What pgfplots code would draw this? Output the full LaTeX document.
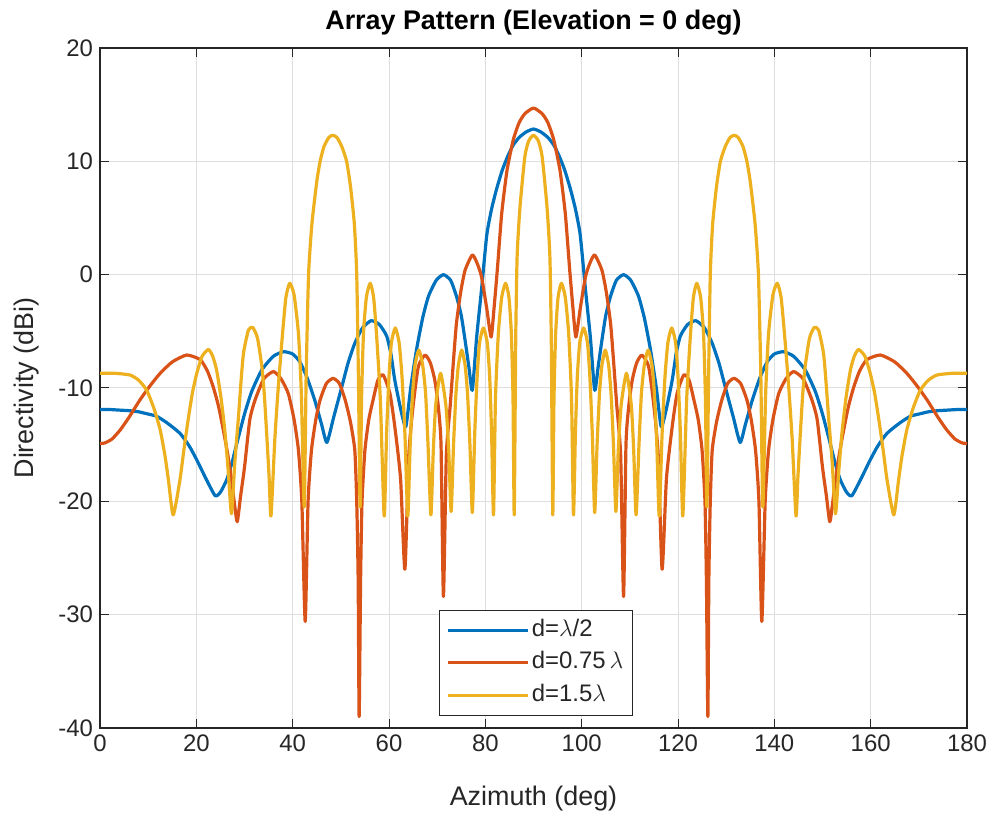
\documentclass[border=0pt]{standalone}
\usepackage{fontspec}
\setmainfont{Liberation Sans}
\usepackage{pgfplots}
\pgfplotsset{compat=1.18}
\definecolor{mblue}{rgb}{0,0.447,0.741}
\definecolor{mred}{rgb}{0.850,0.325,0.098}
\definecolor{myel}{rgb}{0.929,0.694,0.125}
\definecolor{axgray}{rgb}{0.15,0.15,0.15}
\begin{document}
\begin{tikzpicture}
\begin{axis}[
  name=ax,
  scale only axis,
  width=433.5bp, height=340bp,
  xmin=0, xmax=180, ymin=-40, ymax=20,
  xtick={0,20,40,60,80,100,120,140,160,180},
  xticklabels={0,20,40,60,80,100,120,140,160,180},
  ytick={-40,-30,-20,-10,0,10,20},
  yticklabels={-40,-30,-20,-10,0,10,20},
  tick align=inside,
  major tick length=4.5bp,
  tick style={draw=axgray, line width=0.5bp},
  axis line style={draw=axgray, line width=0.6bp},
  grid=major,
  major grid style={draw=black!13, line width=0.5bp},
  ticklabel style={font=\fontsize{12}{14}\selectfont, text=axgray},
  every axis x label/.style={at={(axis description cs:0.5,-0.104)}, anchor=center},
  every axis y label/.style={at={(axis description cs:-0.0842,0.5)}, rotate=90, anchor=center},
  every axis title/.style={at={(axis description cs:0.5,1.038)}, anchor=center},
  label style={font=\fontsize{13.5}{16}\selectfont, text=axgray},
  title style={font=\bfseries\fontsize{13.5}{16}\selectfont},
  title={Array Pattern (Elevation = 0 deg)},
  xlabel={Azimuth (deg)},
  ylabel={Directivity (dBi)},
  legend image code/.code={\draw[#1] (0bp,0bp) -- (40bp,0bp);},
  legend cell align=left,
  legend style={at={(axis description cs:0.391,0.0176)}, anchor=south west,
    draw=axgray, line width=0.6bp, fill=white, inner xsep=3.5bp, inner ysep=3bp,
    font=\fontsize{12}{14}\selectfont, text=axgray,
    nodes={inner sep=1bp, text height=9bp, text depth=3bp},
    row sep=2.3bp},
  every axis plot/.append style={line width=1.6bp, line join=round, smooth, tension=0.35},
]
\addplot[mblue] coordinates {
(0,-11.9) (2,-11.9) (4,-11.95) (6,-12.0) (8,-12.1) (10,-12.3) (11.8,-12.5) (14,-13.1)
(16.6,-14.0) (18.5,-15.1) (20.1,-16.35) (22,-18.0) (23.9,-19.5) (25,-19.2) (26.3,-18.1)
(27.4,-16.6) (28.4,-14.9) (30,-12.3) (31.5,-10.3) (33.6,-8.4) (36,-7.2) (38.1,-6.8)
(40,-7.0) (41.5,-7.7) (43,-9.1) (44.6,-11.1) (46,-13.2) (47.1,-14.8) (48.5,-12.6)
(50.2,-9.9) (51.5,-7.8) (52.9,-6.05) (54.5,-4.7) (56.3,-4.06) (58,-4.4) (59.5,-5.4)
(60.4,-7.0) (61.2,-9.3) (62.5,-12.0) (63.5,-13.4) (64.5,-10.0) (65.7,-6.65) (67,-3.8)
(68.2,-1.9) (69.8,-0.5) (71.3,0) (72.8,-0.5) (74,-1.9) (75,-3.6) (75.8,-5.8) (76.6,-8.2)
(77.3,-10.2) (78.2,-5.5) (79.2,-1.35) (80.3,3.5) (81.3,5.8) (82.3,7.5) (83.5,9.2)
(84.7,10.5) (85.8,11.44) (87,12.1) (88.5,12.6) (90,12.85)
(91.5,12.6) (93,12.1) (94.2,11.44) (95.3,10.5) (96.5,9.2) (97.7,7.5) (98.7,5.8) (99.7,3.5)
(100.8,-1.35) (101.8,-5.5) (102.7,-10.2) (103.4,-8.2) (104.2,-5.8) (105,-3.6) (106,-1.9)
(107.2,-0.5) (108.7,0) (110.2,-0.5) (111.8,-1.9) (113,-3.8) (114.3,-6.65) (115.5,-10.0)
(116.5,-13.4) (117.5,-12.0) (118.8,-9.3) (119.6,-7.0) (120.5,-5.4) (122,-4.4) (123.7,-4.06)
(125.5,-4.7) (127.1,-6.05) (128.5,-7.8) (129.8,-9.9) (131.5,-12.6) (132.9,-14.8) (134,-13.2)
(135.4,-11.1) (137,-9.1) (138.5,-7.7) (140,-7.0) (141.9,-6.8) (144,-7.2) (146.4,-8.4)
(148.5,-10.3) (150,-12.3) (151.6,-14.9) (152.6,-16.6) (153.7,-18.1) (155,-19.2) (156.1,-19.5)
(158,-18.0) (159.9,-16.35) (161.5,-15.1) (163.4,-14.0) (166,-13.1) (168.2,-12.5) (170,-12.3)
(172,-12.1) (174,-12.0) (176,-11.95) (178,-11.9) (180,-11.9)
};
\addlegendentry{d=$\lambda$/2}
\addplot[mred] coordinates {
(0,-14.9) (1,-14.85) (2.5,-14.5) (4.2,-13.7) (6,-12.6) (8.3,-11.05) (10.4,-9.8) (12.5,-8.7)
(15,-7.7) (18,-7.09) (20.8,-7.5) (22.3,-8.5) (23.5,-9.9) (24.6,-11.6) (25.6,-13.7)
(26.5,-15.8) (27.3,-18.1) (28,-20.5) (28.5,-21.8) (29.2,-19.5) (30,-17.0) (31.1,-12.8)
(32.2,-11.05) (34,-9.2) (36,-8.55) (37.6,-9.2) (39.1,-10.5) (40.3,-12.8) (41.2,-15.5)
(41.9,-20) (42.6,-30.6) (43.2,-20) (43.9,-15.5) (44.8,-12.8) (45.7,-11.05) (47,-9.6)
(48.4,-9.15) (49.7,-9.6) (50.9,-11.05) (52,-13) (52.9,-15.5) (53.3,-20) (53.6,-27)
(53.8,-39) (54.1,-27) (54.4,-20) (55,-15.5) (55.8,-12.8) (56.7,-11.05) (57.7,-9.3)
(58.8,-8.85) (60.2,-10.5) (61.2,-13.4) (62.4,-18) (63.3,-26) (64.1,-16) (65,-11.6)
(66.1,-8.1) (67.5,-7.1) (68.6,-7.8) (69.5,-9.3) (70.2,-11.5) (70.8,-15) (71.3,-28.4)
(71.9,-16) (72.7,-11.6) (73.4,-7.5) (74,-4.3) (74.9,-1.5) (75.8,0.4) (77.3,1.74) (78.3,1.0)
(79.2,-0.17) (80.3,-3.0) (81.2,-5.5) (81.8,-3) (82.5,0.5) (83.4,5.4) (84.5,9.2) (85.8,11.9)
(87,13.4) (88.2,14.2) (90,14.7)
(91.8,14.2) (93,13.4) (94.2,11.9) (95.5,9.2) (96.6,5.4) (97.5,0.5) (98.2,-3) (98.8,-5.5)
(99.7,-3.0) (100.8,-0.17) (101.7,1.0) (102.7,1.74) (104.2,0.4) (105.1,-1.5) (106,-4.3)
(106.6,-7.5) (107.3,-11.6) (108.1,-16) (108.7,-28.4) (109.2,-15) (109.8,-11.5) (110.5,-9.3)
(111.4,-7.8) (112.5,-7.1) (113.9,-8.1) (115,-11.6) (115.9,-16) (116.7,-26) (117.6,-18)
(118.8,-13.4) (119.8,-10.5) (121.2,-8.85) (122.3,-9.3) (123.3,-11.05) (124.2,-12.8)
(125,-15.5) (125.6,-20) (125.9,-27) (126.2,-39) (126.4,-27) (126.7,-20) (127.1,-15.5)
(128,-13) (129.1,-11.05) (130.3,-9.6) (131.6,-9.15) (133,-9.6) (134.3,-11.05) (135.2,-12.8)
(136.1,-15.5) (136.8,-20) (137.4,-30.6) (138.1,-20) (138.8,-15.5) (139.7,-12.8) (140.9,-10.5)
(142.4,-9.2) (144,-8.55) (146,-9.2) (147.8,-11.05) (148.9,-12.8) (150,-17.0) (150.8,-19.5)
(151.5,-21.8) (152,-20.5) (152.7,-18.1) (153.5,-15.8) (154.4,-13.7) (155.4,-11.6)
(156.5,-9.9) (157.7,-8.5) (159.2,-7.5) (162,-7.09) (165,-7.7) (167.5,-8.7) (169.6,-9.8)
(171.7,-11.05) (174,-12.6) (175.8,-13.7) (177.5,-14.5) (179,-14.85) (180,-14.9)
};
\addlegendentry{d=0.75\,$\lambda$}
\addplot[myel] coordinates {
(0,-8.7) (3,-8.7) (6.2,-8.85) (8,-9.3) (9.7,-10.2) (11.2,-11.8) (12.5,-13.7) (13.5,-16.0)
(14.2,-18.1) (15.2,-21.2) (16.6,-18.1) (17.4,-15.5) (18.3,-12.8) (19.2,-10.4) (20.1,-8.7)
(21.2,-7.2) (22.5,-6.6) (23.4,-7.2) (24.2,-8.4) (25.1,-10.8) (25.9,-13.7) (26.6,-17.2)
(27.3,-21.1) (28,-16.5) (28.7,-12.8) (29.3,-9.3) (29.8,-6.9) (30.8,-4.9) (31.7,-4.65)
(32.7,-5.6) (33.6,-8.1) (34.1,-10.5) (34.6,-14) (35.1,-17.8) (35.5,-21.3) (36.3,-14.5)
(37,-10.0) (37.9,-5.2) (38.6,-2.0) (39.4,-0.76) (40.3,-1.8) (41.2,-5.2) (41.8,-10.5)
(42.4,-20.5) (42.8,-9) (43.3,0) (44,4.5) (45,8.2) (45.7,10.0) (46.5,11.3) (47.5,12.1)
(48.3,12.3) (49.2,12.1) (50.2,11.3) (51.2,10.0) (52,7.8) (52.8,4.5) (53.3,0) (53.65,-9)
(54,-20.5) (54.3,-11) (54.7,-5.2) (55.3,-2.0) (56.1,-0.76) (56.8,-2.0) (57.4,-5.2)
(58.2,-11) (59,-21.3) (59.5,-14) (60,-9) (60.5,-6) (61.3,-4.7) (62.1,-6) (62.7,-9)
(63.3,-14) (63.9,-21.3) (64.4,-15) (64.9,-10.5) (65.4,-8) (66.2,-6.65) (67,-8) (67.6,-10.5)
(68.1,-15) (68.7,-21.2) (69.2,-15.5) (69.7,-11.5) (70.7,-8.7) (71.8,-11.5) (72.4,-15.5)
(72.9,-20.9) (73.4,-15) (73.9,-10.5) (74.4,-8) (75.1,-6.65) (75.8,-8) (76.3,-10.5)
(76.8,-15) (77.3,-21) (77.8,-14) (78.3,-9) (78.8,-6) (79.6,-4.7) (80.4,-6) (80.9,-9)
(81.3,-14) (81.7,-21.2) (82.1,-11) (82.7,-5.2) (83.4,-2.0) (84.2,-0.76) (84.9,-2.0)
(85.4,-5.2) (85.75,-11) (86,-21.2) (86.3,-6) (86.6,1.6) (87.2,6.0) (88.2,10.4) (89,11.8)
(90,12.3)
(91,11.8) (91.8,10.4) (92.8,6.0) (93.4,1.6) (93.7,-6) (94,-21.2) (94.25,-11) (94.6,-5.2)
(95.1,-2.0) (95.8,-0.76) (96.6,-2.0) (97.3,-5.2) (97.9,-11) (98.3,-21.2) (98.7,-14)
(99.1,-9) (99.6,-6) (100.4,-4.7) (101.2,-6) (101.7,-9) (102.2,-14) (102.7,-21) (103.2,-15)
(103.7,-10.5) (104.2,-8) (104.9,-6.65) (105.6,-8) (106.1,-10.5) (106.6,-15) (107.1,-20.9)
(107.6,-15.5) (108.2,-11.5) (109.3,-8.7) (110.3,-11.5) (110.8,-15.5) (111.3,-21.2)
(111.9,-15) (112.4,-10.5) (113,-8) (113.8,-6.65) (114.6,-8) (115.1,-10.5) (115.6,-15)
(116.1,-21.3) (116.7,-14) (117.3,-9) (117.9,-6) (118.7,-4.7) (119.5,-6) (120,-9) (120.5,-14)
(121,-21.3) (121.8,-11) (122.6,-5.2) (123.2,-2.0) (123.9,-0.76) (124.7,-2.0) (125.3,-5.2)
(125.7,-11) (126,-20.5) (126.35,-9) (126.7,0) (127.2,4.5) (128,7.8) (128.8,10.0)
(129.8,11.3) (130.8,12.1) (131.7,12.3) (132.5,12.1) (133.5,11.3) (134.3,10.0) (135,8.2)
(136,4.5) (136.7,0) (137.2,-9) (137.6,-20.5) (138.2,-10.5) (138.8,-5.2) (139.7,-1.8)
(140.6,-0.76) (141.4,-2.0) (142.1,-5.2) (143,-10.0) (143.7,-14.5) (144.5,-21.3) (144.9,-17.8)
(145.4,-14) (145.9,-10.5) (146.4,-8.1) (147.3,-5.6) (148.3,-4.65) (149.2,-4.9) (150.2,-6.9)
(150.7,-9.3) (151.3,-12.8) (152,-16.5) (152.7,-21.1) (153.4,-17.2) (154.1,-13.7)
(154.9,-10.8) (155.8,-8.4) (156.6,-7.2) (157.5,-6.6) (158.8,-7.2) (159.9,-8.7) (160.8,-10.4)
(161.7,-12.8) (162.6,-15.5) (163.4,-18.1) (164.8,-21.2) (165.8,-18.1) (166.5,-16.0)
(167.5,-13.7) (168.8,-11.8) (170.3,-10.2) (172,-9.3) (173.8,-8.85) (177,-8.7) (180,-8.7)
};
\addlegendentry{d=1.5$\lambda$}
\end{axis}
\pgfresetboundingbox
\path ([xshift=-50bp,yshift=-44.5bp]ax.south west) rectangle ([xshift=13bp,yshift=24bp]ax.north east);
\end{tikzpicture}
\end{document}
